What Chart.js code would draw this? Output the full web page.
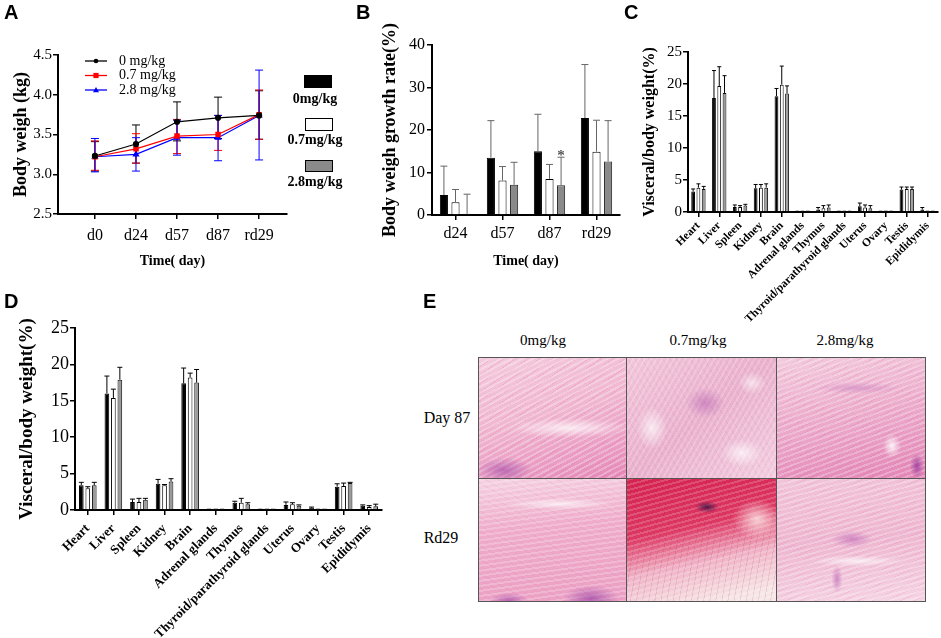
<!DOCTYPE html>
<html><head><meta charset="utf-8">
<script src="https://cdn.jsdelivr.net/npm/chart.js@4.4.0/dist/chart.umd.min.js"></script>
<style>
html,body{margin:0;padding:0;background:#fff;}
body{width:941px;height:638px;position:relative;overflow:hidden;font-family:"Liberation Serif","Times New Roman",serif;color:#000;}
canvas{position:absolute;}
.let{position:absolute;font-family:"Liberation Sans",Arial,sans-serif;font-weight:bold;font-size:20px;line-height:20px;}
.txt{position:absolute;white-space:nowrap;transform:translate(-50%,-50%);}
.box{position:absolute;box-sizing:border-box;border:1px solid #000;}
.img{position:absolute;box-sizing:border-box;border:1px solid #555;}
</style></head>
<body>
<canvas id="cA" width="295" height="280" style="left:0;top:0"></canvas>
<canvas id="cB" width="290" height="280" style="left:335px;top:0"></canvas>
<canvas id="cC" width="311" height="330" style="left:630px;top:0"></canvas>
<canvas id="cD" width="400" height="358" style="left:0;top:280px"></canvas>

<div class="let" style="left:4px;top:2px">A</div>
<div class="let" style="left:356px;top:2px">B</div>
<div class="let" style="left:624px;top:2px">C</div>
<div class="let" style="left:4px;top:291px">D</div>
<div class="let" style="left:423px;top:291px">E</div>

<!-- legend for panel B -->
<div class="box" style="left:304px;top:75px;width:28px;height:13px;background:#000"></div>
<div class="txt" style="left:315px;top:99px;font-weight:bold;font-size:14px">0mg/kg</div>
<div class="box" style="left:305px;top:118px;width:28px;height:13px;background:#fff"></div>
<div class="txt" style="left:315px;top:140px;font-weight:bold;font-size:14px">0.7mg/kg</div>
<div class="box" style="left:305px;top:160px;width:28px;height:12px;background:#8a8a8a"></div>
<div class="txt" style="left:315px;top:182px;font-weight:bold;font-size:14px">2.8mg/kg</div>

<!-- panel E -->
<div class="txt" style="left:543px;top:340px;font-size:15px">0mg/kg</div>
<div class="txt" style="left:698px;top:340px;font-size:15px">0.7mg/kg</div>
<div class="txt" style="left:845px;top:340px;font-size:15px">2.8mg/kg</div>
<div class="txt" style="left:447px;top:418px;font-size:16px">Day 87</div>
<div class="txt" style="left:441px;top:538px;font-size:16px">Rd29</div>
<div class="img" style="left:478px;top:357px;width:149px;height:122px;background:
 radial-gradient(ellipse 40px 18px at 25px 112px, rgba(150,60,160,.55), transparent 70%),
 radial-gradient(ellipse 90px 14px at 90px 70px, rgba(255,255,255,.75), transparent 70%),
 repeating-linear-gradient(152deg, rgba(255,255,255,.28) 0 2px, transparent 2px 5px),
 repeating-linear-gradient(145deg, rgba(225,100,160,.18) 0 1px, transparent 1px 7px),
 linear-gradient(165deg,#f4cadc,#f0b7d0 45%,#e99ac2 80%,#e486b6)"></div>
<div class="img" style="left:626px;top:357px;width:151px;height:122px;background:
 radial-gradient(ellipse 28px 22px at 78px 45px, rgba(170,80,170,.45), transparent 70%),
 radial-gradient(ellipse 22px 30px at 25px 70px, rgba(255,255,255,.7), transparent 70%),
 radial-gradient(ellipse 30px 20px at 115px 95px, rgba(255,255,255,.7), transparent 70%),
 radial-gradient(ellipse 20px 16px at 125px 25px, rgba(255,255,255,.6), transparent 70%),
 repeating-linear-gradient(120deg, rgba(255,255,255,.2) 0 2px, transparent 2px 5px),
 repeating-linear-gradient(60deg, rgba(190,110,190,.12) 0 1px, transparent 1px 6px),
 linear-gradient(140deg,#f2c6da,#eab0cc 50%,#f3cde0)"></div>
<div class="img" style="left:776px;top:357px;width:150px;height:122px;background:
 radial-gradient(ellipse 10px 18px at 140px 108px, rgba(140,40,150,.7), transparent 70%),
 radial-gradient(ellipse 12px 16px at 115px 88px, rgba(255,255,255,.85), transparent 75%),
 radial-gradient(ellipse 60px 8px at 80px 30px, rgba(180,90,180,.35), transparent 70%),
 repeating-linear-gradient(160deg, rgba(255,255,255,.26) 0 2px, transparent 2px 5px),
 repeating-linear-gradient(150deg, rgba(200,90,170,.14) 0 1px, transparent 1px 6px),
 linear-gradient(170deg,#f3cbdd,#eba6c8 55%,#e384b5)"></div>
<div class="img" style="left:478px;top:478px;width:149px;height:124px;background:
 radial-gradient(ellipse 40px 20px at 112px 120px, rgba(140,50,160,.6), transparent 70%),
 radial-gradient(ellipse 28px 12px at 30px 122px, rgba(140,50,160,.55), transparent 70%),
 radial-gradient(ellipse 80px 8px at 80px 25px, rgba(255,255,255,.7), transparent 70%),
 repeating-linear-gradient(172deg, rgba(255,255,255,.22) 0 2px, transparent 2px 5px),
 repeating-linear-gradient(30deg, rgba(225,110,160,.12) 0 1px, transparent 1px 6px),
 linear-gradient(175deg,#f5d3e2,#efaccb 40%,#eba0c4)"></div>
<div class="img" style="left:626px;top:478px;width:151px;height:124px;background:
 radial-gradient(ellipse 16px 8px at 80px 28px, rgba(60,20,70,.85), transparent 75%),
 radial-gradient(ellipse 35px 28px at 130px 40px, rgba(255,250,245,.75), transparent 70%),
 repeating-linear-gradient(165deg, rgba(255,255,255,.18) 0 2px, transparent 2px 5px),
 repeating-linear-gradient(100deg, rgba(160,20,60,.12) 0 1px, transparent 1px 6px),
 linear-gradient(168deg,#d62250,#de3864 40%,#f0b4c8 65%,#f6e6e6 92%)"></div>
<div class="img" style="left:776px;top:478px;width:150px;height:124px;background:
 radial-gradient(ellipse 30px 12px at 75px 60px, rgba(170,70,170,.45), transparent 70%),
 radial-gradient(ellipse 8px 20px at 60px 100px, rgba(170,70,170,.5), transparent 70%),
 radial-gradient(ellipse 70px 8px at 80px 82px, rgba(255,255,255,.7), transparent 70%),
 repeating-linear-gradient(165deg, rgba(255,255,255,.26) 0 2px, transparent 2px 5px),
 repeating-linear-gradient(155deg, rgba(220,110,170,.14) 0 1px, transparent 1px 6px),
 linear-gradient(175deg,#f1c4d8,#eeb6d0 50%,#f5d4e3)"></div>

<script>
// ---------- DATA ----------
const timeA = ['d0','d24','d57','d87','rd29'];
const A_mean_0  = [3.23, 3.38, 3.66, 3.71, 3.74];
const A_hi_0    = [3.41, 3.62, 3.91, 3.97, 4.05];
const A_lo_0    = [3.04, 3.14, 3.42, 3.45, 3.44];
const A_mean_07 = [3.22, 3.32, 3.48, 3.50, 3.75];
const A_hi_07   = [3.42, 3.51, 3.69, 3.74, 4.06];
const A_lo_07   = [3.05, 3.14, 3.26, 3.30, 3.44];
const A_mean_28 = [3.22, 3.25, 3.46, 3.46, 3.74];
const A_hi_28   = [3.45, 3.46, 3.68, 3.74, 4.31];
const A_lo_28   = [3.03, 3.04, 3.24, 3.17, 3.18];
const A_yTicks  = [2.5, 3.0, 3.5, 4.0, 4.5];

const timeB = ['d24','d57','d87','rd29'];
const B_0     = [4.7, 13.5, 15.0, 22.8];
const B_0_hi  = [11.5, 22.2, 23.7, 35.4];
const B_07    = [3.0, 8.1, 8.5, 14.9];
const B_07_hi = [6.0, 11.4, 11.9, 22.3];
const B_28    = [0.3, 7.1, 7.0, 12.6];
const B_28_hi = [4.9, 12.4, 13.6, 22.2];
const B_28_sig = ['', '', '*', ''];

const organs = ['Heart','Liver','Spleen','Kidney','Brain','Adrenal glands','Thymus','Thyroid/parathyroid glands','Uterus','Ovary','Testis','Epididymis'];
const C_0     = [3.2, 17.8, 0.8, 3.7, 18.1, 0.20, 0.4, 0.05, 0.9, 0.20, 3.5, 0.4];
const C_0_hi  = [3.6, 22.1, 1.1, 4.3, 19.3, 0.25, 0.7, 0.07, 1.4, 0.25, 3.9, 0.7];
const C_07    = [3.8, 19.7, 0.8, 3.8, 19.9, 0.15, 0.6, 0.03, 0.7, 0.15, 3.6, 0.2];
const C_07_hi = [4.4, 22.7, 1.0, 4.3, 22.8, 0.20, 1.0, 0.05, 1.1, 0.20, 3.9, 0.3];
const C_28    = [3.6, 18.6, 1.0, 3.8, 18.5, 0.20, 0.7, 0.05, 0.6, 0.20, 3.6, 0.2];
const C_28_hi = [4.0, 21.3, 1.2, 4.4, 19.7, 0.25, 1.1, 0.07, 1.0, 0.25, 3.9, 0.3];

const D_0     = [3.4, 16.0, 1.1, 3.6, 17.4, 0.15, 1.0, 0.03, 0.7, 0.30, 3.2, 0.6];
const D_0_hi  = [3.8, 18.4, 1.5, 4.2, 19.5, 0.20, 1.2, 0.05, 1.1, 0.40, 3.6, 0.7];
const D_07    = [3.0, 15.4, 1.1, 3.4, 18.2, 0.10, 1.0, 0.03, 0.8, 0.15, 3.3, 0.4];
const D_07_hi = [3.2, 16.6, 1.6, 3.5, 18.8, 0.15, 1.6, 0.05, 1.0, 0.20, 3.7, 0.6];
const D_28    = [3.4, 17.9, 1.4, 3.9, 17.5, 0.15, 0.8, 0.03, 0.6, 0.20, 3.7, 0.5];
const D_28_hi = [3.8, 19.6, 1.6, 4.3, 19.3, 0.20, 1.0, 0.05, 0.7, 0.25, 3.8, 0.8];

const doseLabels = ['0 mg/kg', '0.7 mg/kg', '2.8 mg/kg'];

// ---------- SETUP ----------
const SERIF = "'Liberation Serif','Times New Roman',serif";
Chart.defaults.font.family = SERIF;
Chart.defaults.color = '#000';
Chart.defaults.animation = false;

function drawErrors(chart, opts) {
  const ctx = chart.ctx, ys = chart.scales.y;
  chart.data.datasets.forEach((ds, i) => {
    if (!ds.errHi) return;
    const meta = chart.getDatasetMeta(i);
    ctx.save();
    ctx.strokeStyle = ds.errColor || opts.color || '#000';
    ctx.lineWidth = opts.lineWidth || 1;
    meta.data.forEach((el, j) => {
      const x = el.x;
      const yTop = ys.getPixelForValue(ds.errHi[j]);
      const yBot = ds.errLo ? ys.getPixelForValue(ds.errLo[j]) : el.y;
      if (yTop < yBot - 0.5) {
        ctx.beginPath();
        ctx.moveTo(x, yBot); ctx.lineTo(x, yTop);
        ctx.moveTo(x - opts.cap, yTop); ctx.lineTo(x + opts.cap, yTop);
        if (ds.errLo) { ctx.moveTo(x - opts.cap, yBot); ctx.lineTo(x + opts.cap, yBot); }
        ctx.stroke();
      }
      if (ds.sig && ds.sig[j]) {
        ctx.fillStyle = ds.errColor || '#555';
        ctx.font = 'bold 15px ' + SERIF;
        ctx.textAlign = 'center';
        ctx.textBaseline = 'bottom';
        ctx.fillText(ds.sig[j], x, yTop + 6);
      }
    });
    ctx.restore();
  });
}
const errorBars = {
  id: 'errorBars',
  beforeDatasetsDraw(chart, args, opts) { if (opts.before) drawErrors(chart, opts); },
  afterDatasetsDraw(chart, args, opts) { if (!opts.before) drawErrors(chart, opts); }
};

function axisBase(extra) {
  return Object.assign({
    border: { display: true, color: '#000', width: 2 },
    grid: { display: true, drawOnChartArea: false, drawTicks: true, tickLength: 5, color: '#000', lineWidth: 1.5 },
  }, extra);
}

// ---------- PANEL A ----------
const lineLegend = {
  id: 'lineLegend',
  afterDraw(chart) {
    const ctx = chart.ctx;
    const rows = [61, 75.5, 90];
    chart.data.datasets.forEach((ds, i) => {
      const y = rows[i];
      ctx.save();
      ctx.strokeStyle = ds.borderColor; ctx.fillStyle = ds.borderColor; ctx.lineWidth = 1.3;
      ctx.beginPath(); ctx.moveTo(85, y); ctx.lineTo(107, y); ctx.stroke();
      const cx = 96;
      ctx.beginPath();
      if (ds.pointStyle === 'circle') ctx.arc(cx, y, 2.3, 0, Math.PI * 2);
      else if (ds.pointStyle === 'rect') ctx.rect(cx - 2.6, y - 2.6, 5.2, 5.2);
      else { ctx.moveTo(cx, y - 3); ctx.lineTo(cx + 3, y + 2.2); ctx.lineTo(cx - 3, y + 2.2); ctx.closePath(); }
      ctx.fill();
      ctx.fillStyle = '#000';
      ctx.font = '14px ' + SERIF;
      ctx.textAlign = 'left'; ctx.textBaseline = 'middle';
      ctx.fillText(ds.label, 119, y);
      ctx.restore();
    });
  }
};
const toXY = arr => arr.map((v, i) => ({ x: i, y: v }));
new Chart(document.getElementById('cA'), {
  type: 'line',
  data: {
    datasets: [
      { label: doseLabels[0], data: toXY(A_mean_0), errHi: A_hi_0, errLo: A_lo_0, borderColor: '#000', backgroundColor: '#000', errColor: '#000', pointStyle: 'circle', pointRadius: 2.5, borderWidth: 1.2, order: 0 },
      { label: doseLabels[1], data: toXY(A_mean_07), errHi: A_hi_07, errLo: A_lo_07, borderColor: '#ff0000', backgroundColor: '#ff0000', errColor: '#ff0000', pointStyle: 'rect', pointRadius: 3, borderWidth: 1.2, order: 1 },
      { label: doseLabels[2], data: toXY(A_mean_28), errHi: A_hi_28, errLo: A_lo_28, borderColor: '#0000ff', backgroundColor: '#0000ff', errColor: '#0000ff', pointStyle: 'triangle', pointRadius: 3, borderWidth: 1.2, order: 2 }
    ]
  },
  plugins: [errorBars, lineLegend],
  options: {
    responsive: false, devicePixelRatio: 1,
    layout: { padding: { top: 55, right: 8, left: 0, bottom: 0 } },
    plugins: { legend: { display: false }, tooltip: { enabled: false }, errorBars: { cap: 4, lineWidth: 1, before: true } },
    scales: {
      x: axisBase({
        type: 'linear', min: -0.9, max: 4.68,
        afterBuildTicks: s => { s.ticks = timeA.map((_, i) => ({ value: i })); },
        ticks: { callback: v => timeA[v] ?? '', font: { size: 16 }, padding: 7, maxRotation: 0, autoSkip: false },
        title: { display: true, text: 'Time( day)', font: { size: 14, weight: 'bold' }, padding: { top: 0, bottom: 10 } },
        afterFit: s => { s.height = 66; }
      }),
      y: axisBase({
        min: 2.5, max: 4.5,
        afterBuildTicks: s => { s.ticks = A_yTicks.map(v => ({ value: v })); },
        ticks: { callback: v => v.toFixed(1), font: { size: 15 }, padding: 1 },
        title: { display: true, text: 'Body weigh (kg)', font: { size: 18, weight: 'bold' }, padding: { top: 11, bottom: 0 } },
        afterFit: s => { s.width = 58; }
      })
    }
  }
});

// ---------- PANEL B ----------
new Chart(document.getElementById('cB'), {
  type: 'bar',
  data: {
    labels: timeB,
    datasets: [
      { label: '0mg/kg', data: B_0, errHi: B_0_hi, backgroundColor: '#000', borderColor: '#000', borderWidth: 1 },
      { label: '0.7mg/kg', data: B_07, errHi: B_07_hi, backgroundColor: '#fff', borderColor: '#000', borderWidth: 1 },
      { label: '2.8mg/kg', data: B_28, errHi: B_28_hi, sig: B_28_sig, backgroundColor: '#8a8a8a', borderColor: '#222', borderWidth: 1 }
    ]
  },
  plugins: [errorBars],
  options: {
    responsive: false, devicePixelRatio: 1,
    layout: { padding: { top: 45, right: 5, left: 0, bottom: 0 } },
    datasets: { bar: { categoryPercentage: 0.74, barPercentage: 0.7 } },
    plugins: { legend: { display: false }, tooltip: { enabled: false }, errorBars: { cap: 3.5, lineWidth: 1, color: '#666' } },
    scales: {
      x: axisBase({
        type: 'category', offset: true,
        grid: { display: true, offset: false, drawOnChartArea: false, drawTicks: true, tickLength: 5, color: '#000', lineWidth: 1.5 },
        ticks: { font: { size: 16 }, padding: 4, maxRotation: 0 },
        title: { display: true, text: 'Time( day)', font: { size: 14, weight: 'bold' }, padding: { top: 0, bottom: 10 } },
        afterFit: s => { s.height = 65; }
      }),
      y: axisBase({
        min: 0, max: 40,
        ticks: { stepSize: 10, font: { size: 16 }, padding: 2 },
        title: { display: true, text: 'Body weigh growth rate(%)', font: { size: 18, weight: 'bold' }, padding: { top: 45, bottom: 0 } },
        afterFit: s => { s.width = 97; }
      })
    }
  }
});

// ---------- PANELS C & D ----------
function organChart(id, v0, h0, v07, h07, v28, h28, cfg) {
  return new Chart(document.getElementById(id), {
    type: 'bar',
    data: {
      labels: organs,
      datasets: [
        { label: '0mg/kg', data: v0, errHi: h0, backgroundColor: '#000', borderColor: '#000', borderWidth: 1 },
        { label: '0.7mg/kg', data: v07, errHi: h07, backgroundColor: '#fff', borderColor: '#000', borderWidth: 1 },
        { label: '2.8mg/kg', data: v28, errHi: h28, backgroundColor: '#9a9a9a', borderColor: '#111', borderWidth: 1 }
      ]
    },
    plugins: [errorBars],
    options: {
      responsive: false, devicePixelRatio: 1,
      layout: { padding: { top: cfg.top, right: cfg.right, left: 0, bottom: 0 } },
      datasets: { bar: { categoryPercentage: 0.76, barPercentage: 0.72, minBarLength: 1.5 } },
      plugins: { legend: { display: false }, tooltip: { enabled: false }, errorBars: { cap: cfg.cap, lineWidth: 1, color: '#000' } },
      scales: {
        x: axisBase({
          type: 'category', offset: true,
          grid: { display: true, offset: false, drawOnChartArea: false, drawTicks: true, tickLength: 5, color: '#000', lineWidth: 1.5 },
          ticks: { font: { size: cfg.xFont, weight: 'bold' }, padding: cfg.xPad, minRotation: 45, maxRotation: 45, autoSkip: false },
          afterFit: s => { s.height = cfg.xH; }
        }),
        y: axisBase({
          min: 0, max: 25,
          ticks: { stepSize: 5, font: { size: cfg.yFont }, padding: 1 },
          grid: { display: true, drawOnChartArea: false, drawTicks: true, tickLength: 5, color: '#000', lineWidth: 1.5 },
          title: { display: true, text: 'Visceral/body weight(%)', font: { size: cfg.tFont, weight: 'bold' }, padding: { top: cfg.tPad, bottom: 0 } },
          afterFit: s => { s.width = cfg.yW; }
        })
      }
    }
  });
}
organChart('cC', C_0, C_0_hi, C_07, C_07_hi, C_28, C_28_hi,
  { top: 52, right: 3, cap: 2, xFont: 11.5, xPad: 2, xH: 118, yFont: 15, tFont: 16, tPad: 10, yW: 58 });
organChart('cD', D_0, D_0_hi, D_07, D_07_hi, D_28, D_28_hi,
  { top: 48, right: 18, cap: 2.5, xFont: 13, xPad: 6, xH: 128, yFont: 18, tFont: 19, tPad: 16, yW: 75 });
</script>
</body></html>
